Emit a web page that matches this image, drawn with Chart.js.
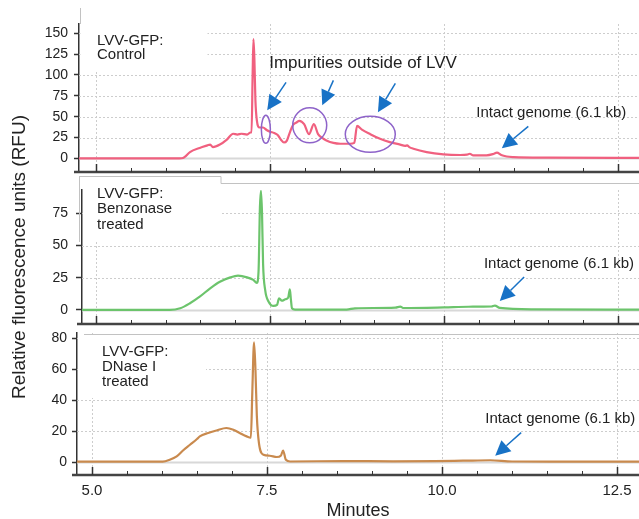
<!DOCTYPE html>
<html>
<head>
<meta charset="utf-8">
<script src="https://cdn.jsdelivr.net/npm/chart.js@4.4.1/dist/chart.umd.min.js"></script>
<style>
  html, body { margin: 0; padding: 0; background: #fff; }
  #wrap { position: relative; width: 639px; height: 519px; overflow: hidden; }
  #wrap canvas { position: absolute; left: 0; top: 0; }
</style>
</head>
<body>
<div id="wrap">
  <canvas id="c1" width="639" height="519"></canvas>
  <canvas id="c2" width="639" height="519"></canvas>
  <canvas id="c3" width="639" height="519"></canvas>
</div>
<script>
// Electropherogram traces (minutes, RFU)
const controlMin = [4.75, 6.20, 6.25, 6.28, 6.35, 6.49, 6.60, 6.64, 6.68, 6.78, 6.88, 6.97, 7.03, 7.09, 7.17, 7.22, 7.235, 7.25, 7.262, 7.275, 7.29, 7.31, 7.35, 7.40, 7.45, 7.50, 7.56, 7.61, 7.66, 7.70, 7.74, 7.78, 7.83, 7.88, 7.92, 7.99, 8.06, 8.13, 8.19, 8.25, 8.31, 8.41, 8.51, 8.65, 8.71, 8.75, 8.82, 8.94, 9.08, 9.22, 9.37, 9.44, 9.47, 9.50, 9.56, 9.75, 9.99, 10.23, 10.33, 10.37, 10.42, 10.61, 10.70, 10.76, 10.82, 10.90, 11.0, 11.5, 12.85];
const controlRfu = [0, 0, 0.5, 2, 7.5, 12.5, 15.5, 16.5, 13.5, 16.5, 22.5, 29.5, 28.5, 29.5, 28.5, 31, 31, 100, 143, 120, 70, 46, 37, 37, 34, 32, 30.5, 28, 22, 19, 21, 30, 40, 43, 45, 41, 29, 41, 29, 24.5, 21.5, 18.5, 17.5, 17.5, 18.5, 39, 34.5, 29, 23.5, 19.5, 16.5, 15, 15.5, 13.5, 11.5, 7.5, 4.8, 4, 4.5, 5.5, 3.5, 3.6, 5, 6.8, 4, 2.2, 1.5, 0.8, 0.5];

const benzoMin = [4.75, 6.06, 6.21, 6.35, 6.49, 6.64, 6.78, 6.93, 7.04, 7.17, 7.26, 7.31, 7.335, 7.355, 7.37, 7.385, 7.40, 7.43, 7.48, 7.55, 7.60, 7.63, 7.67, 7.72, 7.76, 7.785, 7.80, 7.815, 7.86, 8.60, 8.72, 9.30, 9.37, 9.42, 10.0, 10.35, 10.68, 10.73, 10.80, 11.3, 12.85];
const benzoRfu = [0, 0, 1.3, 5.2, 10.3, 16.8, 21.9, 25.3, 26.6, 25.3, 23.3, 21, 30, 80, 92.5, 75, 36, 15.5, 6.4, 3.1, 3.9, 9, 7.2, 8.3, 9.5, 16, 8, 1.3, 0.3, 0.3, 1.3, 1.8, 2.6, 1.5, 2, 2.5, 2.7, 3.4, 1.6, 0.5, 0.3];

const dnaseMin = [4.75, 6.01, 6.11, 6.21, 6.30, 6.40, 6.50, 6.54, 6.66, 6.78, 6.92, 7.02, 7.11, 7.21, 7.27, 7.29, 7.315, 7.335, 7.355, 7.385, 7.45, 7.54, 7.64, 7.70, 7.73, 7.77, 7.83, 8.6, 9.3, 9.9, 10.3, 10.69, 11.0, 11.8, 12.85];
const dnaseRfu = [0.5, 0.5, 1.7, 3.9, 7.7, 11.4, 15.1, 16.8, 19, 20.6, 22.2, 21.1, 19, 16.8, 16, 45, 77.4, 60, 30, 12.5, 5, 4.3, 3.5, 4.5, 7.7, 1.7, 0.6, 0.9, 0.7, 0.8, 1.1, 1.4, 0.6, 0.5, 0.5];

// tick labels
const xMajorTicks = [5.0, 7.5, 10.0, 12.5];
const xMinorStep = 0.5;
const yTicksControl = [0, 25, 50, 75, 100, 125, 150];
const yTicksBenzo = [0, 25, 50, 75];
const yTicksDnase = [0, 20, 40, 60, 80];

const FONT = 'Liberation Sans, Arial, Helvetica, sans-serif';
Chart.defaults.font.family = FONT;
Chart.defaults.color = '#222';

const ARROW = '#1872c6';
const RING = '#8e63c9';
const GENOME = 'Intact genome (6.1 kb)';

// panel layout (pixels) and notes (notes in data units)
const panels = [
  {
    id: 'c1', xs: controlMin, ys: controlRfu, yTicks: yTicksControl, color: '#f0607f',
    top: 24, bottom: 347, yWidth: 79, xHeight: 0, tickLen: 5, tickPad: 6,
    xMin: 4.756, xMax: 12.80, yMin: -16.4, yMax: 161.2,
    box: { x: 80.5, y: 8, w: 127, h: 63 },
    edges: [[80.5, 8, 80.5, 24]],
    label: { x: 97, y: 40.5, dy: 14.5, lines: ['LVV-GFP:', 'Control'] },
    rings: [{ x: 7.44, y: 34.8, rx: 4.5, ry: 14 }, { x: 8.07, y: 39.6, rx: 17, ry: 17.5 }, { x: 8.94, y: 28.8, rx: 25, ry: 18 }],
    arrows: [[7.73, 91.2, 7.46, 57.6], [8.41, 93.6, 8.25, 63.6], [9.30, 90, 9.05, 55.2], [11.21, 38.4, 10.83, 12]],
    notes: [{ x: 8.836, y: 114, text: 'Impurities outside of LVV', size: 17 }, { x: 11.54, y: 54, text: GENOME, size: 15 }]
  },
  {
    id: 'c2', xs: benzoMin, ys: benzoRfu, yTicks: yTicksBenzo, color: '#6cc46c',
    top: 190, bottom: 195, yWidth: 82, xHeight: 0, tickLen: 6, tickPad: 8,
    xMin: 4.799, xMax: 12.80, yMin: -10.9, yMax: 93.1,
    box: { x: 83, y: 177, w: 138, h: 65 },
    edges: [[79, 176.5, 221, 176.5], [221, 176.5, 221, 183.5], [221, 183.5, 639, 183.5], [79.5, 176, 79.5, 242]],
    label: { x: 97, y: 193.5, dy: 15.5, lines: ['LVV-GFP:', 'Benzonase', 'treated'] },
    rings: [],
    arrows: [[11.15, 25.6, 10.80, 7]],
    notes: [{ x: 11.65, y: 35.7, text: GENOME, size: 15 }],
    yTitle: 'Relative fluorescence units (RFU)'
  },
  {
    id: 'c3', xs: dnaseMin, ys: dnaseRfu, yTicks: yTicksDnase, color: '#c98a4e',
    top: 333, bottom: 0, yWidth: 77, xHeight: 44, tickLen: 5, tickPad: 5,
    xMin: 4.786, xMax: 12.814, yMin: -8.1, yMax: 83.4,
    box: { x: 78, y: 335, w: 128, h: 63 },
    edges: [[84, 334.5, 639, 334.5]],
    label: { x: 102, y: 352, dy: 15, lines: ['LVV-GFP:', 'DNase I', 'treated'] },
    rings: [],
    arrows: [[11.13, 19.2, 10.76, 4.3]],
    notes: [{ x: 11.69, y: 28.2, text: GENOME, size: 15 }],
    xTitle: 'Minutes'
  }
];

function line(ctx, x1, y1, x2, y2) {
  ctx.beginPath(); ctx.moveTo(x1, y1); ctx.lineTo(x2, y2); ctx.stroke();
}

function makeDeco(p) {
  return {
    id: 'deco',
    beforeDatasetsDraw(chart) {
      const { ctx, chartArea: a, scales: { x, y } } = chart;
      ctx.save();
      p.yTicks.forEach(v => {
        const py = Math.round(y.getPixelForValue(v)) + 0.5;
        if (v === 0) { ctx.setLineDash([]); ctx.strokeStyle = '#d8d8d8'; ctx.lineWidth = 2; }
        else { ctx.setLineDash([2, 2]); ctx.strokeStyle = '#cdcdcd'; ctx.lineWidth = 1; }
        line(ctx, a.left, py, a.right, py);
      });
      ctx.setLineDash([2, 2]); ctx.strokeStyle = '#cdcdcd'; ctx.lineWidth = 1;
      xMajorTicks.forEach(v => {
        const px = Math.round(x.getPixelForValue(v)) + 0.5;
        line(ctx, px, a.top, px, a.bottom);
      });
      ctx.setLineDash([]);
      ctx.fillStyle = '#fff';
      ctx.fillRect(p.box.x, p.box.y, p.box.w, p.box.h);
      ctx.strokeStyle = '#c2c2c2'; ctx.lineWidth = 1;
      p.edges.forEach(e => line(ctx, e[0], e[1], e[2], e[3]));
      ctx.restore();
    },
    afterDatasetsDraw(chart) {
      const { ctx, chartArea: a, scales: { x, y } } = chart;
      ctx.save();
      // bottom axis with inward ticks
      ctx.strokeStyle = '#444'; ctx.lineWidth = 2.5;
      line(ctx, a.left - 5, a.bottom, a.right, a.bottom);
      ctx.strokeStyle = '#333';
      for (let v = xMajorTicks[0]; v <= xMajorTicks[xMajorTicks.length - 1] + 1e-9; v += xMinorStep) {
        const major = xMajorTicks.some(m => Math.abs(m - v) < 1e-6);
        const px = Math.round(x.getPixelForValue(v)) + 0.5;
        ctx.lineWidth = major ? 1.5 : 1;
        line(ctx, px, a.bottom, px, a.bottom - (major ? 8 : 4));
      }
      // panel label
      ctx.fillStyle = '#222';
      ctx.font = '15px ' + FONT;
      ctx.textAlign = 'left'; ctx.textBaseline = 'middle';
      p.label.lines.forEach((t, i) => ctx.fillText(t, p.label.x, p.label.y + i * p.label.dy));
      // rings
      ctx.strokeStyle = RING; ctx.lineWidth = 1.5;
      p.rings.forEach(r => {
        ctx.beginPath();
        ctx.ellipse(x.getPixelForValue(r.x), y.getPixelForValue(r.y), r.rx, r.ry, 0, 0, Math.PI * 2);
        ctx.stroke();
      });
      // arrows
      ctx.strokeStyle = ARROW; ctx.fillStyle = ARROW; ctx.lineWidth = 1.5;
      p.arrows.forEach(ar => {
        const x1 = x.getPixelForValue(ar[0]), y1 = y.getPixelForValue(ar[1]);
        const x2 = x.getPixelForValue(ar[2]), y2 = y.getPixelForValue(ar[3]);
        const ang = Math.atan2(y2 - y1, x2 - x1);
        const hl = 15, hw = 7.5;
        const bx = x2 - hl * Math.cos(ang), by = y2 - hl * Math.sin(ang);
        line(ctx, x1, y1, bx, by);
        ctx.beginPath();
        ctx.moveTo(x2, y2);
        ctx.lineTo(bx + hw * Math.sin(ang), by - hw * Math.cos(ang));
        ctx.lineTo(bx - hw * Math.sin(ang), by + hw * Math.cos(ang));
        ctx.closePath(); ctx.fill();
      });
      // notes
      ctx.fillStyle = '#222'; ctx.textAlign = 'center';
      p.notes.forEach(n => {
        ctx.font = n.size + 'px ' + FONT;
        ctx.fillText(n.text, x.getPixelForValue(n.x), y.getPixelForValue(n.y));
      });
      ctx.restore();
    }
  };
}

panels.forEach(p => {
  new Chart(document.getElementById(p.id), {
    type: 'line',
    data: {
      datasets: [{
        data: p.xs.map((t, i) => ({ x: t, y: p.ys[i] })),
        borderColor: p.color,
        borderWidth: 2.2,
        pointRadius: 0,
        fill: false,
        cubicInterpolationMode: 'monotone'
      }]
    },
    options: {
      responsive: false,
      animation: false,
      devicePixelRatio: 1,
      layout: { padding: { top: p.top, bottom: p.bottom, left: 0, right: 0 } },
      plugins: { legend: { display: false }, tooltip: { enabled: false } },
      scales: {
        x: {
          type: 'linear', min: p.xMin, max: p.xMax,
          afterBuildTicks: s => { s.ticks = xMajorTicks.map(v => ({ value: v })); },
          afterFit: s => { s.height = p.xHeight; },
          grid: { display: false, drawTicks: false },
          border: { display: false },
          ticks: {
            display: !!p.xTitle, padding: 7, maxRotation: 0, autoSkip: false,
            font: { size: 15 }, color: '#222',
            callback: v => Number(v).toFixed(1)
          },
          title: {
            display: !!p.xTitle, text: p.xTitle || '', color: '#222',
            font: { size: 18, lineHeight: 1 }, padding: { top: 0, bottom: -1 }
          }
        },
        y: {
          min: p.yMin, max: p.yMax,
          afterBuildTicks: s => { s.ticks = p.yTicks.map(v => ({ value: v })); },
          afterFit: s => { s.width = p.yWidth; },
          grid: { drawOnChartArea: false, drawTicks: true, tickLength: p.tickLen, tickColor: '#333', tickWidth: 1.5 },
          border: { display: true, color: '#333', width: 1.5 },
          ticks: { padding: p.tickPad, font: { size: 14 }, color: '#222' },
          title: {
            display: !!p.yTitle, text: p.yTitle || '', color: '#222',
            font: { size: 19, lineHeight: 1 }, padding: { top: 10.5, bottom: 0 }
          }
        }
      }
    },
    plugins: [makeDeco(p)]
  });
});
</script>
</body>
</html>
